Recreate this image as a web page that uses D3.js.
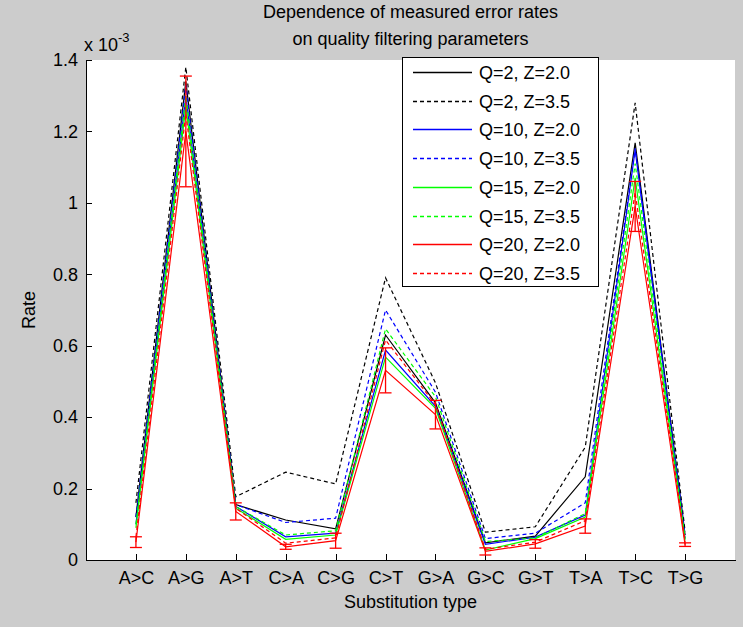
<!DOCTYPE html>
<html>
<head>
<meta charset="utf-8">
<script src="https://cdn.jsdelivr.net/npm/d3@7"></script>
<style>
  body { margin: 0; background: #cccccc; }
  svg { display: block; font-family: "Liberation Sans", Arial, sans-serif; }
  .axis text { font-size: 18px; fill: #000; }
  .axis path, .axis line { stroke: #000; shape-rendering: crispEdges; }
</style>
</head>
<body>
<div id="chart"></div>
<script>
// rates in units of 1e-3
var categories = ["A>C", "A>G", "A>T", "C>A", "C>G", "C>T", "G>A", "G>C", "G>T", "T>A", "T>C", "T>G"];

var q2z20  = [0.12, 1.34, 0.155, 0.112, 0.087, 0.63, 0.44, 0.048, 0.067, 0.233, 1.168, 0.07];
var q2z35  = [0.16, 1.38, 0.177, 0.246, 0.213, 0.79, 0.496, 0.078, 0.093, 0.316, 1.28, 0.08];
var q10z20 = [0.10, 1.30, 0.15, 0.065, 0.075, 0.588, 0.43, 0.044, 0.064, 0.126, 1.148, 0.06];
var q10z35 = [0.12, 1.33, 0.155, 0.105, 0.117, 0.70, 0.47, 0.06, 0.075, 0.16, 1.153, 0.07];
var q15z20 = [0.09, 1.27, 0.145, 0.058, 0.07, 0.568, 0.425, 0.028, 0.06, 0.12, 1.07, 0.055];
var q15z35 = [0.10, 1.30, 0.15, 0.07, 0.082, 0.647, 0.457, 0.052, 0.062, 0.13, 1.11, 0.06];
var q20z20 = [0.05, 1.20, 0.136, 0.037, 0.054, 0.531, 0.407, 0.024, 0.045, 0.095, 0.99, 0.043];
var q20z35 = [0.065, 1.25, 0.145, 0.047, 0.062, 0.616, 0.435, 0.03, 0.05, 0.11, 1.03, 0.05];
var q20err = [0.015, 0.155, 0.024, 0.007, 0.021, 0.063, 0.04, 0.01, 0.012, 0.02, 0.07, 0.005];

var yTicks = [0, 0.2, 0.4, 0.6, 0.8, 1, 1.2, 1.4];

var series = [
    {name: "Q=2, Z=2.0",  values: q2z20,  color: "#000000", dashed: false},
    {name: "Q=2, Z=3.5",  values: q2z35,  color: "#000000", dashed: true},
    {name: "Q=10, Z=2.0", values: q10z20, color: "#0000ff", dashed: false},
    {name: "Q=10, Z=3.5", values: q10z35, color: "#0000ff", dashed: true},
    {name: "Q=15, Z=2.0", values: q15z20, color: "#00ff00", dashed: false},
    {name: "Q=15, Z=3.5", values: q15z35, color: "#00ff00", dashed: true},
    {name: "Q=20, Z=2.0", values: q20z20, color: "#ff0000", dashed: false},
    {name: "Q=20, Z=3.5", values: q20z35, color: "#ff0000", dashed: true}
];

var width = 743, height = 627;
var plot = {left: 86, top: 60, right: 735, bottom: 560};
var dash = "4,3";

var svg = d3.select("#chart").append("svg")
    .attr("width", width)
    .attr("height", height);

svg.append("rect")
    .attr("width", width).attr("height", height)
    .attr("fill", "#cccccc");

svg.append("rect")
    .attr("x", plot.left).attr("y", plot.top)
    .attr("width", plot.right - plot.left).attr("height", plot.bottom - plot.top)
    .attr("fill", "#ffffff");

var x = d3.scaleLinear().domain([0, categories.length + 1]).range([plot.left, plot.right]);
var y = d3.scaleLinear().domain([0, 1.4]).range([plot.bottom, plot.top]);

// axes, ticks pointing inwards like matlab
var xAxis = d3.axisBottom(x)
    .tickValues(d3.range(1, categories.length + 1))
    .tickFormat(function(d) { return categories[d - 1]; })
    .tickSizeInner(-6).tickSizeOuter(0).tickPadding(11);

svg.append("g")
    .attr("class", "axis x-axis")
    .attr("transform", "translate(0," + plot.bottom + ")")
    .call(xAxis);

var yAxis = d3.axisLeft(y)
    .tickValues(yTicks)
    .tickFormat(function(d) { return d3.format("")(+d.toFixed(1)); })
    .tickSizeInner(-6).tickSizeOuter(0).tickPadding(8);

svg.append("g")
    .attr("class", "axis y-axis")
    .attr("transform", "translate(" + plot.left + ",0)")
    .call(yAxis);

svg.selectAll(".axis path").attr("stroke-width", 1.2);

// exponent label
var expo = svg.append("text")
    .attr("x", 84).attr("y", 51)
    .attr("font-size", 18);
expo.append("tspan").text("x 10");
expo.append("tspan").attr("dy", -9).attr("font-size", 13).text("-3");

// lines
var line = d3.line()
    .x(function(d, i) { return x(i + 1); })
    .y(function(d) { return y(d); });

svg.append("g").selectAll("path")
    .data(series)
    .enter().append("path")
    .attr("d", function(s) { return line(s.values); })
    .attr("fill", "none")
    .attr("stroke", function(s) { return s.color; })
    .attr("stroke-width", 1.2)
    .attr("stroke-dasharray", function(s) { return s.dashed ? dash : null; });

// error bars on Q=20, Z=2.0
var capW = 6;
var eb = svg.append("g").attr("stroke", "#ff0000").attr("stroke-width", 1.3);
q20z20.forEach(function(v, i) {
    var cx = x(i + 1), lo = y(v - q20err[i]), hi = y(v + q20err[i]);
    eb.append("line").attr("x1", cx).attr("x2", cx).attr("y1", lo).attr("y2", hi);
    eb.append("line").attr("x1", cx - capW).attr("x2", cx + capW).attr("y1", lo).attr("y2", lo);
    eb.append("line").attr("x1", cx - capW).attr("x2", cx + capW).attr("y1", hi).attr("y2", hi);
});

// title and labels
var title = svg.append("text")
    .attr("x", (plot.left + plot.right) / 2)
    .attr("text-anchor", "middle")
    .attr("font-size", 18);
title.append("tspan").attr("x", (plot.left + plot.right) / 2).attr("y", 18).text("Dependence of measured error rates");
title.append("tspan").attr("x", (plot.left + plot.right) / 2).attr("y", 45).text("on quality filtering parameters");

svg.append("text")
    .attr("x", (plot.left + plot.right) / 2).attr("y", 608)
    .attr("text-anchor", "middle").attr("font-size", 18)
    .text("Substitution type");

svg.append("text")
    .attr("transform", "translate(35," + ((plot.top + plot.bottom) / 2) + ") rotate(-90)")
    .attr("text-anchor", "middle").attr("font-size", 18)
    .text("Rate");

// legend
var legend = svg.append("g").attr("transform", "translate(402,57)");
legend.append("rect")
    .attr("x", 0.5).attr("y", 0.5)
    .attr("width", 196).attr("height", 229)
    .attr("fill", "#ffffff").attr("stroke", "#000").attr("stroke-width", 1.2)
    .attr("shape-rendering", "crispEdges");

var rowH = 28.7;
var items = legend.selectAll(".item")
    .data(series)
    .enter().append("g")
    .attr("class", "item")
    .attr("transform", function(d, i) { return "translate(0," + Math.round(15 + i * rowH) + ")"; });

items.append("line")
    .attr("x1", 11).attr("x2", 70)
    .attr("y1", 0.5).attr("y2", 0.5)
    .attr("stroke", function(s) { return s.color; })
    .attr("stroke-width", 1.6)
    .attr("stroke-dasharray", function(s) { return s.dashed ? dash : null; });

items.append("text")
    .attr("x", 77).attr("y", 7)
    .attr("font-size", 18)
    .text(function(s) { return s.name; });
</script>
</body>
</html>
